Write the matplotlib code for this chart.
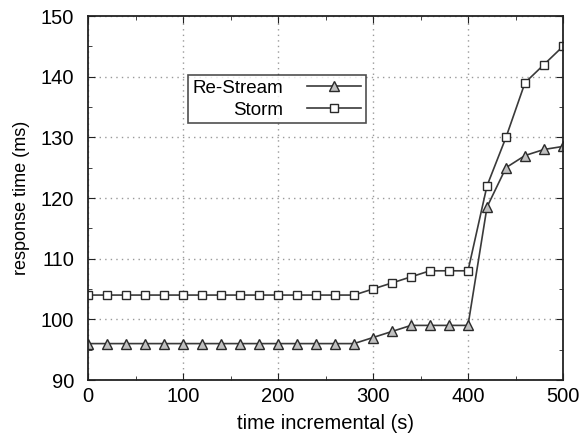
import matplotlib
matplotlib.use("Agg")
import matplotlib.pyplot as plt
from matplotlib.ticker import MultipleLocator

plt.rcParams['font.family'] = ['Liberation Sans', 'DejaVu Sans']

x = list(range(0, 501, 20))
restream = [96]*15 + [97, 98, 99, 99, 99, 99, 118.5, 125, 127, 128, 128.5]
storm = [104]*15 + [105, 106, 107, 108, 108, 108, 122, 130, 139, 142, 145]

fig = plt.figure(figsize=(5.79, 4.37), dpi=100)
ax = fig.add_axes([88/579, 1-380/437, 475/579, 364/437])

lc = '#3a3a3a'
ax.plot(x, restream, color=lc, lw=1.2, marker='^', ms=6.5, mfc='#c0c0c0', mec='#2a2a2a', mew=1.0, label='Re-Stream')
ax.plot(x, storm, color=lc, lw=1.2, marker='s', ms=6, mfc='white', mec='#2a2a2a', mew=1.0, label='Storm')

ax.set_xlim(0, 500)
ax.set_ylim(90, 150)
ax.xaxis.set_major_locator(MultipleLocator(100))
ax.xaxis.set_minor_locator(MultipleLocator(50))
ax.yaxis.set_major_locator(MultipleLocator(10))
ax.yaxis.set_minor_locator(MultipleLocator(5))
ax.tick_params(which='both', direction='in', top=True, right=True, labelsize=14.5, color='#222')
ax.tick_params(which='major', length=5)
ax.tick_params(which='minor', length=3)
ax.tick_params(axis='y', which='major', pad=10)
ax.tick_params(axis='x', which='major', pad=5)
ax.grid(True, which='major', linestyle=(0, (1, 3)), color='#999999', lw=1.0)
for s in ax.spines.values():
    s.set_color('#222')
    s.set_linewidth(1.3)

ax.set_xlabel('time incremental (s)', fontsize=14.5, labelpad=6)
ax.set_ylabel('response time (ms)', fontsize=13, labelpad=8)

leg = ax.legend(loc='upper left', bbox_to_anchor=(0.21, 0.838), borderaxespad=0, markerfirst=False,
                fontsize=13.5, frameon=True, fancybox=False, edgecolor='#222',
                handlelength=2.9, borderpad=0.25, labelspacing=0.25, handletextpad=1.25)
leg.get_frame().set_linewidth(1.2)
for t in leg.get_texts():
    t.set_ha('right')
leg._legend_box.align = 'right'

fig.savefig('out.png', dpi=100)
